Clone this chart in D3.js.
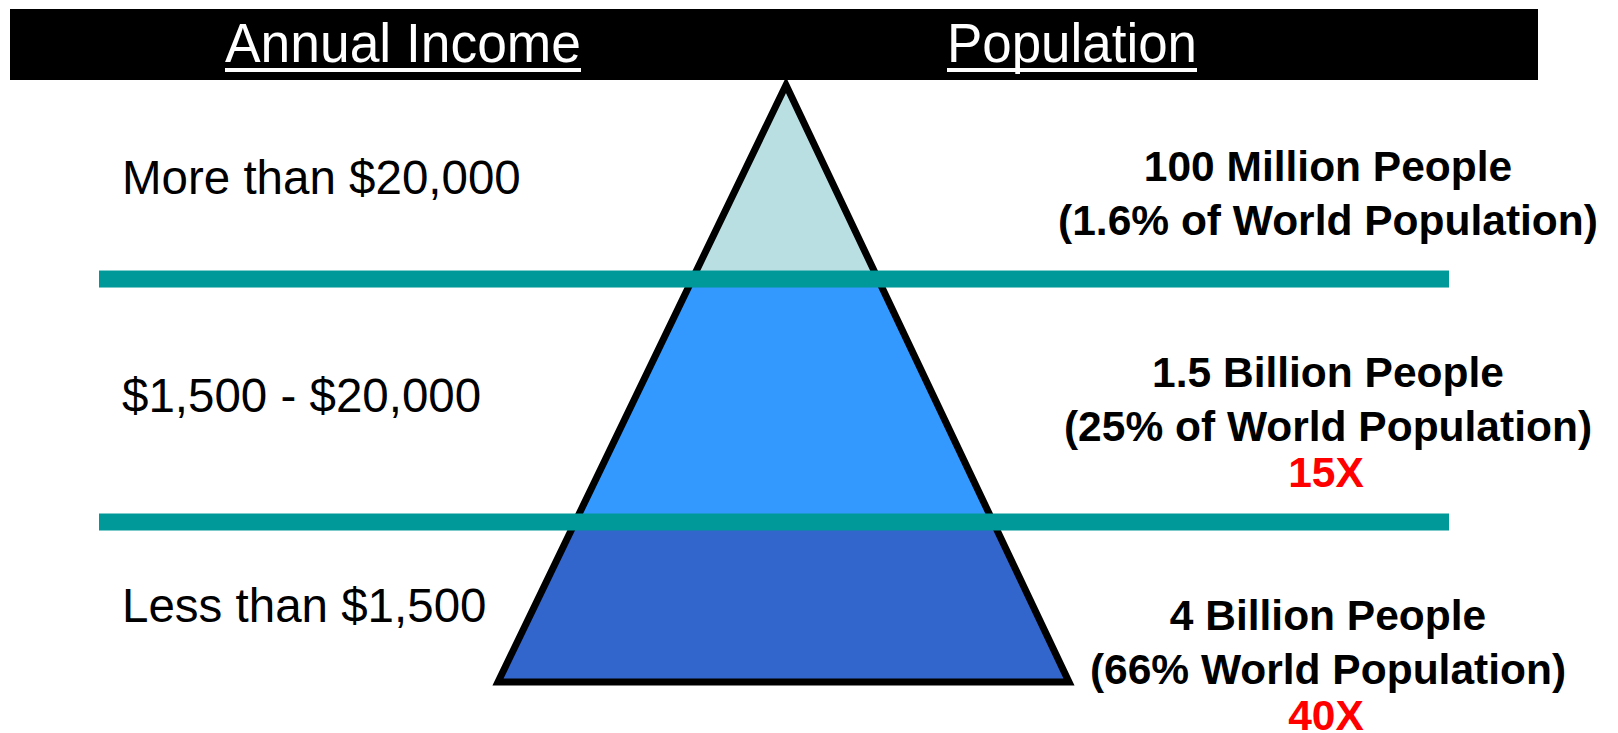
<!DOCTYPE html>
<html>
<head>
<meta charset="utf-8">
<script src="https://cdnjs.cloudflare.com/ajax/libs/d3/7.8.4/d3.min.js"></script>
<style>
  html, body { margin: 0; padding: 0; background: #fff; }
  svg { display: block; }
</style>
</head>
<body>
<div id="chart"></div>
<script>
// data
const headers = ['Annual Income', 'Population'];
const incomeLabels = ['More than $20,000', '$1,500 - $20,000', 'Less than $1,500'];
const peopleLabels = ['100 Million People', '1.5 Billion People', '4 Billion People'];
const shareLabels = ['(1.6% of World Population)', '(25% of World Population)', '(66% World Population)'];
const multipliers = ['', '15X', '40X'];
const tierBreaks = [0, 0.325, 0.732, 1];   // share of pyramid height from apex
const tierColors = ['#b9dfe3', '#3399ff', '#3366cc'];

const W = 1618, H = 733;

const svg = d3.select('#chart')
  .append('svg')
  .attr('width', W)
  .attr('height', H);

// pyramid geometry
const apex = { x: 786, y: 85 };
const base = { left: 498, right: 1069, y: 682 };

const y = d3.scaleLinear().domain([0, 1]).range([apex.y, base.y]);
const xl = d3.scaleLinear().domain([0, 1]).range([apex.x, base.left]);
const xr = d3.scaleLinear().domain([0, 1]).range([apex.x, base.right]);

// header bar
svg.append('rect')
  .attr('x', 10).attr('y', 9)
  .attr('width', 1528).attr('height', 71)
  .attr('fill', '#000');

const headerPos = [{ cx: 403, w: 356 }, { cx: 1072, w: 250 }];
headers.forEach((h, i) => {
  const p = headerPos[i];
  svg.append('text')
    .attr('x', p.cx).attr('y', 62)
    .attr('text-anchor', 'middle')
    .attr('font-family', 'Liberation Sans, Arial, sans-serif')
    .attr('font-size', 56)
    .attr('textLength', p.w)
    .attr('lengthAdjust', 'spacingAndGlyphs')
    .attr('fill', '#fff')
    .text(h);
  svg.append('rect')
    .attr('x', p.cx - p.w / 2).attr('y', 68)
    .attr('width', p.w).attr('height', 4)
    .attr('fill', '#fff');
});

// tiers
const tiers = d3.range(tierColors.length).map(i => ({ t0: tierBreaks[i], t1: tierBreaks[i + 1], color: tierColors[i] }));

svg.selectAll('path.tier')
  .data(tiers)
  .join('path')
  .attr('class', 'tier')
  .attr('fill', d => d.color)
  .attr('d', d => d3.line()([
    [xl(d.t0), y(d.t0)], [xr(d.t0), y(d.t0)],
    [xr(d.t1), y(d.t1)], [xl(d.t1), y(d.t1)]
  ]) + 'Z');

// outline
svg.append('path')
  .attr('fill', 'none')
  .attr('stroke', '#000')
  .attr('stroke-width', 7)
  .attr('stroke-linejoin', 'miter')
  .attr('d', d3.line()([[xl(0), y(0)], [xr(1), y(1)], [xl(1), y(1)]]) + 'Z');

// teal divider lines
svg.selectAll('rect.divider')
  .data(tierBreaks.slice(1, -1))
  .join('rect')
  .attr('class', 'divider')
  .attr('x', 99)
  .attr('y', d => y(d) - 8.5)
  .attr('width', 1350)
  .attr('height', 17)
  .attr('fill', '#009999');

// left income labels
const incomeY = [194, 412, 622];
svg.selectAll('text.income')
  .data(incomeLabels)
  .join('text')
  .attr('class', 'income')
  .attr('x', 122)
  .attr('y', (d, i) => incomeY[i])
  .attr('font-family', 'Liberation Sans, Arial, sans-serif')
  .attr('font-size', 47.5)
  .attr('fill', '#000')
  .text(d => d);

// right population labels
const popY = [181, 387, 630];
const lineGap = 54;
const rightX = 1328;
peopleLabels.forEach((d, i) => {
  const g = svg.append('g')
    .attr('font-family', 'Liberation Sans, Arial, sans-serif')
    .attr('font-weight', 'bold')
    .attr('font-size', 42.5)
    .attr('text-anchor', 'middle');
  g.append('text').attr('x', rightX).attr('y', popY[i]).attr('fill', '#000').text(d);
  g.append('text').attr('x', rightX).attr('y', popY[i] + lineGap).attr('fill', '#000').text(shareLabels[i]);
  if (multipliers[i]) {
    g.append('text').attr('x', rightX - 2).attr('y', popY[i] + lineGap + 46)
      .attr('fill', '#ff0000').text(multipliers[i]);
  }
});
</script>
</body>
</html>
